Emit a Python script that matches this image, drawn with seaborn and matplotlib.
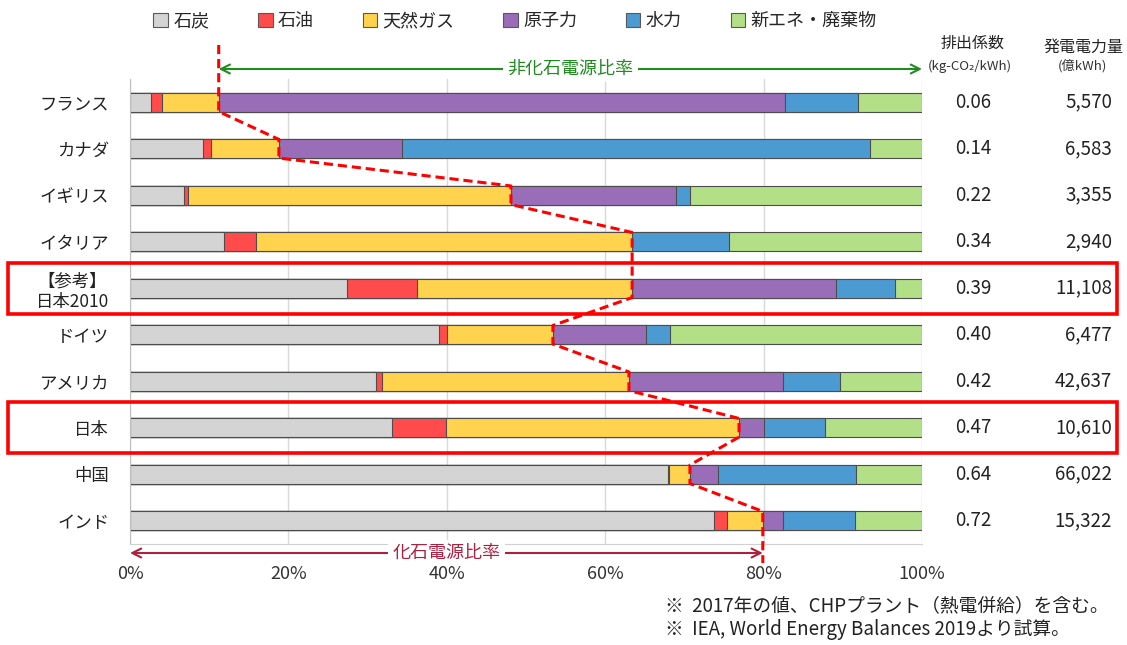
import numpy as np
import pandas as pd
import matplotlib.pyplot as plt
import matplotlib.transforms as mtransforms
from matplotlib.patches import Patch, Rectangle
import seaborn as sns

sns.set_style("white")
plt.rcParams["font.family"] = ["Noto Sans CJK JP", "DejaVu Sans"]

# 電源構成 (%) 2017年
countries = ["フランス", "カナダ", "イギリス", "イタリア", "【参考】\n日本2010",
             "ドイツ", "アメリカ", "日本", "中国", "インド"]
coal = [2.7, 9.2, 6.8, 11.9, 27.4, 39.0, 31.1, 33.1, 67.9, 73.8]
oil = [1.3, 1.0, 0.5, 4.0, 8.9, 1.0, 0.7, 6.8, 0.2, 1.6]
gas = [7.2, 8.6, 40.8, 47.5, 27.1, 13.4, 31.2, 37.0, 2.6, 4.5]
nuclear = [71.5, 15.6, 20.9, 0.0, 25.8, 11.7, 19.4, 3.2, 3.5, 2.6]
hydro = [9.2, 59.0, 1.7, 12.2, 7.4, 3.1, 7.2, 7.7, 17.5, 9.0]
renew = [8.1, 6.6, 29.3, 24.4, 3.4, 31.8, 10.4, 12.2, 8.3, 8.5]
emission = ["0.06", "0.14", "0.22", "0.34", "0.39", "0.40", "0.42", "0.47", "0.64", "0.72"]
generation = ["5,570", "6,583", "3,355", "2,940", "11,108", "6,477", "42,637",
              "10,610", "66,022", "15,322"]

sources = ["石炭", "石油", "天然ガス", "原子力", "水力", "新エネ・廃棄物"]
colors = ["#D4D4D4", "#FF4B4B", "#FFD34D", "#9A6DB8", "#4B9BD2", "#B3DF86"]
highlight_rows = [4, 7]

W, H = 1127, 645
fig = plt.figure(figsize=(W / 100, H / 100), dpi=100)
ax = fig.add_axes([130 / W, 1 - 544 / H, 792 / W, 465 / H])


def py(p):
    # figure pixel row -> data y (rows are 46.5 px apart, axis top at 79 px)
    return -0.5 + (p - 79) / 46.5


df = pd.DataFrame({"country": countries, "石炭": coal, "石油": oil, "天然ガス": gas,
                   "原子力": nuclear, "水力": hydro, "新エネ・廃棄物": renew})
cum = df[sources].cumsum(axis=1)

# stacked bars: draw the longest cumulative first, shorter ones on top
for src, col in reversed(list(zip(sources, colors))):
    sns.barplot(x=cum[src], y=df["country"], orient="h", color=col, saturation=1,
                width=0.4, edgecolor="#4d4d4d", linewidth=0.8, ax=ax)

ax.set_xlim(0, 100)
ax.set_ylim(9.5, -0.5)
ax.set_xlabel("")
ax.set_ylabel("")
ax.set_xticks(np.arange(0, 101, 20))
ax.set_xticklabels([f"{v}%" for v in range(0, 101, 20)], fontsize=13, color="#333333")
ax.tick_params(axis="x", length=0, pad=15)
ax.tick_params(axis="y", which="major", length=0, pad=15, labelsize=12.5, labelcolor="#222222")
for lab in ax.get_yticklabels():
    lab.set_multialignment("center")
ax.set_yticks(np.arange(-0.5, 10, 1), minor=True)
ax.tick_params(axis="y", which="minor", length=5, color="#BFBFBF", direction="out")
ax.grid(axis="x", color="#D9D9D9", lw=1)
ax.set_axisbelow(True)
for s in ["top", "right"]:
    ax.spines[s].set_visible(False)
ax.spines["left"].set_color("#BFBFBF")
ax.spines["bottom"].set_color("#D0D0D0")

# fossil share boundary (dashed red)
fossil = [c + o + g for c, o, g in zip(coal, oil, gas)]
xs, ys = [fossil[0]], [py(45)]
for i, f in enumerate(fossil):
    xs += [f, f]
    ys += [i - 0.2, i + 0.2]
xs.append(fossil[-1])
ys.append(py(563))
ax.plot(xs, ys, color="#FF0000", lw=2.2, ls=(0, (3, 1.6)), clip_on=False, zorder=5)

# arrows with labels
yg = py(69)
ax.annotate("", xy=(fossil[0], yg), xytext=(100, yg), annotation_clip=False,
            arrowprops=dict(arrowstyle="<->", color="#1E8C1E", lw=1.5,
                            shrinkA=0, shrinkB=0, mutation_scale=16))
ax.text((fossil[0] + 100) / 2, yg, "非化石電源比率", color="#1E8C1E", fontsize=13,
        ha="center", va="center", bbox=dict(fc="white", ec="none", pad=3))
yr = py(553)
ax.annotate("", xy=(0, yr), xytext=(fossil[-1], yr), annotation_clip=False,
            arrowprops=dict(arrowstyle="<->", color="#AE2040", lw=1.5,
                            shrinkA=0, shrinkB=0, mutation_scale=16))
ax.text(fossil[-1] / 2, yr, "化石電源比率", color="#AE2040", fontsize=13,
        ha="center", va="center", bbox=dict(fc="white", ec="none", pad=3))

# right-hand columns
tr = mtransforms.blended_transform_factory(fig.transFigure, ax.transData)
for i, (e, g) in enumerate(zip(emission, generation)):
    ax.text(973 / W, i, e, transform=tr, ha="center", va="center", fontsize=13.5,
            color="#222222", clip_on=False)
    ax.text(1112 / W, i, g, transform=tr, ha="right", va="center", fontsize=13.5,
            color="#222222", clip_on=False)
fig.text(973 / W, 1 - 43 / H, "排出係数", ha="center", va="center", fontsize=11.5, color="#222222")
fig.text(970 / W, 1 - 66 / H, "(kg-CO₂/kWh)", ha="center", va="center", fontsize=9.5,
         color="#333333")
fig.text(1084 / W, 1 - 47 / H, "発電電力量", ha="center", va="center", fontsize=11.5, color="#222222")
fig.text(1082 / W, 1 - 66 / H, "(億kWh)", ha="center", va="center", fontsize=9.5,
         color="#333333")

# highlight boxes
for r in highlight_rows:
    fig.add_artist(Rectangle((8 / W, r - 0.55), 1109 / W, 1.1, transform=tr,
                             fill=False, ec="#FF0000", lw=2.6, clip_on=False))

# legend
handles = [Patch(fc=c, ec="#595959", lw=0.8) for c in colors]
fig.legend(handles, sources, loc="center", bbox_to_anchor=(515 / W, 1 - 21 / H), ncol=6,
           frameon=False, fontsize=13, handlelength=0.8, handleheight=0.8,
           handletextpad=0.3, columnspacing=2.7)

# notes
fig.text(665 / W, 1 - 606 / H, "※  2017年の値、CHPプラント（熱電併給）を含む。",
         ha="left", va="center", fontsize=13.5, color="#222222")
fig.text(665 / W, 1 - 630 / H, "※  IEA, World Energy Balances 2019より試算。",
         ha="left", va="center", fontsize=13.5, color="#222222")

fig.savefig("out.png", dpi=100)
